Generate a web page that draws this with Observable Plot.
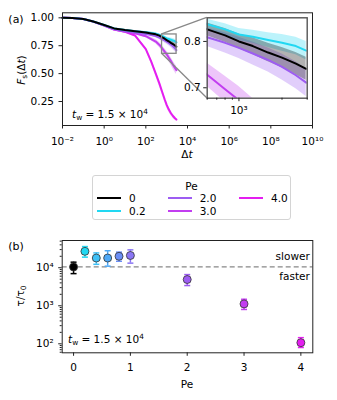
<!DOCTYPE html>
<html><head><meta charset="utf-8">
<script src="https://cdn.jsdelivr.net/npm/d3@7"></script>
<script src="https://cdn.jsdelivr.net/npm/@observablehq/plot@0.6"></script>
<style>
body{margin:0;background:#fff;font-family:"DejaVu Sans",sans-serif;color:#000;}
#root{position:relative;width:337px;height:400px;overflow:hidden;background:#fff;}
#root > svg, #root > figure{position:absolute;margin:0;}
.lbl{position:absolute;white-space:nowrap;line-height:1;font-size:10.5px;}
.lbl sub{font-size:0.7em;vertical-align:-0.25em;line-height:0;}
.lbl sup{font-size:0.7em;vertical-align:0.45em;line-height:0;}
#legend{position:absolute;left:92px;top:175px;width:199px;height:45px;border:1px solid #d4d4d4;border-radius:3px;box-sizing:border-box;font-size:10.5px;}
#legend .sw{position:absolute;height:2px;width:24px;}
#legend .tx{position:absolute;line-height:1;transform:translateY(-50%);}
</style></head><body><div id="root"></div>
<script>
// ---------- panel (a) data ----------
const dt = [0.01,0.03,0.1,0.3,1,3,10,30,100,180,300,450,600,800,1000,1250,1600,2000,2500,2950];
const fsPe0  = [1.0,0.998,0.99,0.967,0.935,0.905,0.89,0.88,0.868,0.86,0.852,0.84,0.826,0.813,0.80,0.79,0.776,0.765,0.752,0.741];
const fsPe02 = [1.0,0.998,0.99,0.967,0.935,0.905,0.89,0.88,0.87,0.864,0.857,0.847,0.837,0.826,0.815,0.81,0.803,0.797,0.79,0.78];
const fsPe2  = [1.0,0.998,0.99,0.966,0.932,0.90,0.882,0.87,0.856,0.846,0.836,0.822,0.809,0.797,0.786,0.774,0.76,0.745,0.727,0.711];
const fsPe3  = [1.0,0.998,0.99,0.966,0.93,0.895,0.876,0.862,0.835,0.81,0.787,0.757,0.728,0.697,0.673,0.645,0.612,0.58,0.55,0.53];
const fsPe4  = [1.0,0.998,0.99,0.966,0.93,0.895,0.875,0.842,0.72,0.61,0.50,0.41,0.34,0.27,0.22,0.18,0.145,0.12,0.10,0.088];
const errPe0  = [0,0,0.001,0.002,0.003,0.004,0.005,0.006,0.008,0.009,0.01,0.012,0.014,0.015,0.016,0.018,0.02,0.022,0.024,0.025];
const errPe02 = [0,0,0.001,0.002,0.003,0.004,0.005,0.006,0.007,0.008,0.009,0.01,0.011,0.012,0.013,0.014,0.016,0.018,0.019,0.02];
const errPe2  = [0,0,0.001,0.002,0.003,0.005,0.006,0.008,0.01,0.012,0.014,0.017,0.02,0.022,0.023,0.025,0.026,0.028,0.029,0.03];
const errPe3  = [0,0,0.001,0.002,0.004,0.006,0.008,0.01,0.013,0.016,0.019,0.022,0.025,0.028,0.03,0.032,0.034,0.036,0.037,0.038];
const errPe4  = [0,0,0.001,0.002,0.004,0.006,0.008,0.011,0.015,0.02,0.024,0.026,0.026,0.025,0.024,0.022,0.02,0.018,0.016,0.015];
const legendPe = ["0","0.2","2.0","3.0","4.0"];
const legendColors = ["#000000","#22d8f2","#9d5cf2","#c23ef0","#e41ef0"];
const mainXTicks = [1e-2,1,1e2,1e4,1e6,1e8,1e10];
const mainYTicks = [0.25,0.5,0.75,1.0];
const mainXDomain = [1e-2,1e10];
const mainYDomain = [0.035,1.045];
const insetXDomain = [600,3000];
const insetYDomain = [0.6775,0.851];
const insetXMajor = [1000];
const insetXMinor = [600,700,800,900,2000,3000];
const insetYTicks = [0.7,0.8];

// ---------- panel (b) data ----------
const pe     = [0,0.2,0.4,0.6,0.8,1.0,2.0,3.0,4.0];
const tau    = [10500,27000,18000,18000,20000,21000,4900,1120,107];
const tauLo  = [7000,19000,12300,11000,14800,13200,3400,800,80];
const tauHi  = [14000,36000,24500,28000,25700,29500,6600,1480,145];
const peColors = ["#000000","#22d8f2","#3ec0f6","#4fa8f6","#6a8ef6","#8a76f4","#9d5cf2","#c23ef0","#e41ef0"];
const bXTicks = [0,1,2,3,4];
const bYTicks = [100,1000,10000];
const bYMinor = [60,70,80,90,200,300,400,500,600,700,800,900,2000,3000,4000,5000,6000,7000,8000,9000,20000,30000,40000,50000];
const bXDomain = [-0.2,4.21];
const bYDomain = [58,52000];

// ---------- helpers ----------
const root = document.getElementById("root");
const supMap = {"-":"⁻","0":"⁰","1":"¹","2":"²","3":"³","4":"⁴","5":"⁵","6":"⁶","7":"⁷","8":"⁸","9":"⁹"};
const pow10 = d => "10" + String(Math.round(Math.log10(d))).split("").map(c => supMap[c]).join("");
const baseStyle = {fontFamily:"DejaVu Sans, sans-serif", fontSize:"10.5px", color:"#000", background:"transparent", overflow:"visible"};
function place(el, left, top){ el.style.position="absolute"; el.style.left=left+"px"; el.style.top=top+"px"; root.appendChild(el); return el; }
function label(html, x, y, opts={}){
  const d = document.createElement("div"); d.className="lbl"; d.innerHTML=html;
  d.style.left=x+"px"; d.style.top=y+"px";
  const ax = opts.anchor==="start" ? "0" : opts.anchor==="end" ? "-100%" : "-50%";
  d.style.transform = `translate(${ax},-50%)` + (opts.rotate ? ` rotate(${opts.rotate}deg)` : "");
  if (opts.size) d.style.fontSize = opts.size+"px";
  root.appendChild(d); return d;
}

const series = [
  {pe:"4.0", color:"#e41ef0", fs:fsPe4, err:errPe4},
  {pe:"3.0", color:"#c23ef0", fs:fsPe3, err:errPe3},
  {pe:"2.0", color:"#9d5cf2", fs:fsPe2, err:errPe2},
  {pe:"0.2", color:"#22d8f2", fs:fsPe02, err:errPe02},
  {pe:"0",   color:"#000000", fs:fsPe0, err:errPe0}
];
const rowsOf = s => dt.map((t,i) => ({dt:t, fs:s.fs[i], lo:s.fs[i]-s.err[i], hi:s.fs[i]+s.err[i]}));

// ---------- main plot (a) ----------
const M = {w:337, h:168, l:62, r:25, t:12.3, b:43};
const mainPlot = Plot.plot({
  width:M.w, height:M.h, marginLeft:M.l, marginRight:M.r, marginTop:M.t, marginBottom:M.b,
  style: baseStyle,
  x:{type:"log", domain:mainXDomain},
  y:{domain:mainYDomain},
  marks:[
    ...series.map(s => Plot.areaY(rowsOf(s), {x:"dt", y1:"lo", y2:"hi", fill:s.color, fillOpacity:0.3, curve:"linear"})),
    ...series.map(s => Plot.line(rowsOf(s), {x:"dt", y:"fs", stroke:s.color, strokeWidth:2})),
    Plot.rect([{}], {x1:insetXDomain[0], x2:insetXDomain[1], y1:insetYDomain[0], y2:insetYDomain[1], fill:"none", stroke:"#888", strokeWidth:1.3}),
    Plot.frame({stroke:"#222", strokeWidth:1}),
    Plot.axisX({ticks:mainXTicks, tickFormat:pow10, tickSize:3.5, tickPadding:9, label:null, stroke:"#222"}),
    Plot.axisY({ticks:mainYTicks, tickFormat:d3.format(".2f"), tickSize:3.5, tickPadding:5, label:null, stroke:"#222"})
  ]
});
place(mainPlot, 0, 0);

// ---------- inset ----------
const I = {left:176, top:5, w:140, h:130, l:30.7, r:9.3, t:12.3, b:37.3};
const insetPlot = Plot.plot({
  width:I.w, height:I.h, marginLeft:I.l, marginRight:I.r, marginTop:I.t, marginBottom:I.b,
  style: baseStyle,
  x:{type:"log", domain:insetXDomain},
  y:{domain:insetYDomain},
  marks:[
    Plot.frame({fill:"white"}),
    ...series.map(s => Plot.areaY(rowsOf(s), {x:"dt", y1:"lo", y2:"hi", fill:s.color, fillOpacity:0.3, clip:true})),
    ...series.map(s => Plot.line(rowsOf(s), {x:"dt", y:"fs", stroke:s.color, strokeWidth:2, clip:true})),
    Plot.frame({stroke:"#555", strokeWidth:1.4}),
    Plot.axisX({ticks:insetXMajor, tickFormat:pow10, tickSize:3.5, tickPadding:5, label:null, stroke:"#222"}),
    Plot.axisX({ticks:insetXMinor, tickFormat:() => "", tickSize:2, label:null, stroke:"#222"}),
    Plot.axisY({ticks:insetYTicks, tickFormat:d3.format(".1f"), tickSize:3.5, tickPadding:3, label:null, stroke:"#222"})
  ]
});

// connectors between zoom rectangle and inset
const sx = mainPlot.scale("x"), sy = mainPlot.scale("y");
const rx = sx.apply(insetXDomain[0]), rTop = sy.apply(insetYDomain[1]), rBot = sy.apply(insetYDomain[0]);
const ix = I.left + I.l, iTop = I.top + I.t, iBot = I.top + I.h - I.b;
const conn = d3.create("svg").attr("width", M.w).attr("height", M.h).style("position","absolute").style("left","0px").style("top","0px");
conn.append("line").attr("x1", rx).attr("y1", rTop).attr("x2", ix).attr("y2", iTop).attr("stroke","#888").attr("stroke-width",1.3);
conn.append("line").attr("x1", rx).attr("y1", rBot).attr("x2", ix).attr("y2", iBot).attr("stroke","#888").attr("stroke-width",1.3);
root.appendChild(conn.node());
place(insetPlot, I.left, I.top);

// labels panel (a)
label("(a)", 16, 19, {size:11});
label("<i>F</i><sub>s</sub>(Δ<i>t</i>)", 21, 70, {rotate:-90});
label("Δ<i>t</i>", 187, 154);
label("<i>t</i><sub>w</sub> = 1.5 × 10<sup>4</sup>", 72, 114, {anchor:"start"});

// ---------- legend ----------
const legend = document.createElement("div"); legend.id = "legend";
const lt = document.createElement("div"); lt.className="tx"; lt.textContent="Pe"; lt.style.left="50%"; lt.style.top="10px"; lt.style.transform="translate(-50%,-50%)";
legend.appendChild(lt);
const cols = [4, 74.7, 146], rows = [22, 35];
legendPe.forEach((p,i) => {
  const c = Math.floor(i/2), r = i%2;
  const sw = document.createElement("div"); sw.className="sw"; sw.style.background=legendColors[i];
  sw.style.left=cols[c]+"px"; sw.style.top=(rows[r]-1)+"px"; legend.appendChild(sw);
  const tx = document.createElement("div"); tx.className="tx"; tx.textContent=p;
  tx.style.left=(cols[c]+32)+"px"; tx.style.top=rows[r]+"px"; legend.appendChild(tx);
});
root.appendChild(legend);

// ---------- panel (b) ----------
const capSymbol = {draw(ctx, size){ const r = Math.sqrt(size/Math.PI); ctx.moveTo(-r,0); ctx.lineTo(r,0); }};
const pts = pe.map((p,i) => ({pe:p, tau:tau[i], lo:tauLo[i], hi:tauHi[i], color:peColors[i]}));
const B = {w:337, h:175, l:61.7, r:24.7, t:15, b:47.7};
const bPlot = Plot.plot({
  width:B.w, height:B.h, marginLeft:B.l, marginRight:B.r, marginTop:B.t, marginBottom:B.b,
  style: baseStyle,
  x:{domain:bXDomain},
  y:{type:"log", domain:bYDomain},
  color:{type:"identity"},
  marks:[
    Plot.ruleY([tau[0]], {stroke:"#888", strokeWidth:1.2, strokeDasharray:"5,3"}),
    Plot.ruleX(pts, {x:"pe", y1:"lo", y2:"hi", stroke:"color", strokeWidth:1.5}),
    Plot.dot(pts, {x:"pe", y:"lo", symbol:capSymbol, r:3, stroke:"color", strokeWidth:1.5, fill:"none"}),
    Plot.dot(pts, {x:"pe", y:"hi", symbol:capSymbol, r:3, stroke:"color", strokeWidth:1.5, fill:"none"}),
    Plot.dot(pts, {x:"pe", y:"tau", r:4, fill:"color", stroke:"#333", strokeWidth:0.8}),
    Plot.text(["slower"], {y:[tau[0]], frameAnchor:"right", textAnchor:"end", dx:-3, dy:-10, fontSize:10.5}),
    Plot.text(["faster"], {y:[tau[0]], frameAnchor:"right", textAnchor:"end", dx:-3, dy:10, fontSize:10.5}),
    Plot.frame({stroke:"#222", strokeWidth:1}),
    Plot.axisX({ticks:bXTicks, tickFormat:d3.format("d"), tickSize:3.5, tickPadding:7, label:null, stroke:"#222"}),
    Plot.axisY({ticks:bYTicks, tickFormat:pow10, tickSize:3.5, tickPadding:5, label:null, stroke:"#222"}),
    Plot.axisY({ticks:bYMinor, tickFormat:() => "", tickSize:2, label:null, stroke:"#222"})
  ]
});
place(bPlot, 0, 225);

label("(b)", 16, 246, {size:11});
label("τ/τ<sub>0</sub>", 20, 296, {rotate:-90});
label("Pe", 187, 384);
label("<i>t</i><sub>w</sub> = 1.5 × 10<sup>4</sup>", 68, 339, {anchor:"start"});
</script></body></html>
